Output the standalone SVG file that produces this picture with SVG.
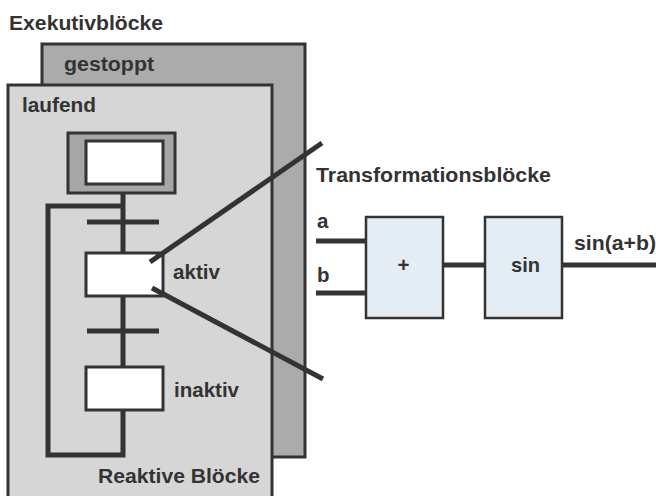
<svg xmlns="http://www.w3.org/2000/svg" width="656" height="496" viewBox="0 0 656 496">
<style>
.t{font-family:"Liberation Sans",Arial,Helvetica,sans-serif;font-weight:bold;font-size:20.5px;fill:#333;}
.panel{stroke:#333;stroke-width:3;}
.box{stroke:#333;stroke-width:3;fill:#fff;}
.fb{stroke:#333;stroke-width:2.5;fill:#e5edf4;}
.ln{stroke:#333;stroke-width:5;fill:none;stroke-linecap:butt;}
</style>
<rect width="656" height="496" fill="#fff"/>
<text class="t" x="9" y="30" textLength="154" lengthAdjust="spacingAndGlyphs">Exekutivblöcke</text>
<g id="gestoppt">
<rect class="panel" x="42" y="44" width="263" height="413" fill="#ababab"/>
<text class="t" x="64" y="71" textLength="90" lengthAdjust="spacingAndGlyphs">gestoppt</text>
</g>
<g id="laufend">
<rect class="panel" x="8" y="85" width="264" height="420" fill="#d6d6d6"/>
<text class="t" x="22" y="112" textLength="74" lengthAdjust="spacingAndGlyphs">laufend</text>
<text class="t" x="98" y="483" textLength="162" lengthAdjust="spacingAndGlyphs">Reaktive Blöcke</text>
</g>
<g id="connectors">
<polyline class="ln" points="123,193 123,206 48,206 48,455 123,455 123,193"/>
<line class="ln" x1="87" y1="222" x2="159" y2="222"/>
<line class="ln" x1="87" y1="331" x2="159" y2="331"/>
<line class="ln" x1="316" y1="241" x2="366" y2="241"/>
<line class="ln" x1="316" y1="293" x2="366" y2="293"/>
<line class="ln" x1="443" y1="265" x2="485" y2="265"/>
<line class="ln" x1="562" y1="265" x2="656" y2="265"/>
</g>
<g id="start-step">
<rect x="68" y="133" width="107" height="60" fill="#a6a6a6" stroke="#333" stroke-width="3"/>
<rect class="box" x="86" y="141" width="77" height="43"/>
</g>
<g id="aktiv">
<rect class="box" x="86" y="253" width="77" height="43"/>
<text class="t" x="173" y="279" textLength="47" lengthAdjust="spacingAndGlyphs">aktiv</text>
</g>
<g id="inaktiv">
<rect class="box" x="86" y="367" width="77" height="43"/>
<text class="t" x="174" y="397" textLength="65" lengthAdjust="spacingAndGlyphs">inaktiv</text>
</g>
<g id="zoom-lines">
<line class="ln" x1="150" y1="262" x2="322" y2="143"/>
<line class="ln" x1="152" y1="288" x2="323" y2="379"/>
</g>
<text class="t" x="316" y="182" textLength="235" lengthAdjust="spacingAndGlyphs">Transformationsblöcke</text>
<text class="t" x="317" y="228">a</text>
<text class="t" x="317" y="282">b</text>
<g id="plus">
<rect class="fb" x="366" y="217" width="77" height="101"/>
<text class="t" x="403.5" y="272" text-anchor="middle">+</text>
</g>
<g id="sin">
<rect class="fb" x="485" y="217" width="77" height="101"/>
<text class="t" x="511" y="272" textLength="29" lengthAdjust="spacingAndGlyphs">sin</text>
</g>
<text class="t" x="574" y="250" textLength="82" lengthAdjust="spacingAndGlyphs">sin(a+b)</text>
</svg>
